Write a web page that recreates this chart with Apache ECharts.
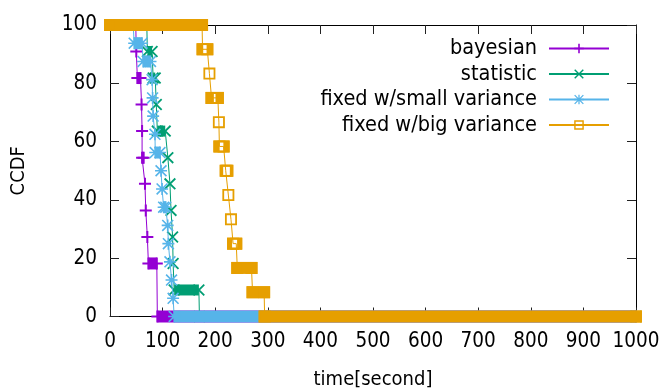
<!DOCTYPE html>
<html>
<head>
<meta charset="utf-8">
<script src="https://cdn.jsdelivr.net/npm/echarts@6/dist/echarts.min.js"></script>
<style>
  html, body { margin: 0; padding: 0; background: #fff; }
  #chart { width: 665px; height: 390px; }
</style>
</head>
<body>
<div id="chart"></div>
<script>
// CCDF of job completion time per method: x = time in seconds, y = CCDF in percent.
// Each array lists the step vertices; two consecutive vertices on the same level
// bound a stretch sampled so densely that its point markers merge into a band.
const bayesianX = [0, 49, 50, 52, 58, 60, 61, 61, 64, 66.5, 68, 71, 73, 89, 90, 1000];
const bayesianY = [100, 100, 90.9, 81.8, 81.8, 72.7, 63.6, 54.5, 54.5, 45.5, 36.4, 27.3, 18.2, 18.2, 0, 0];

const statisticX = [0, 70, 71, 80, 82, 86, 88, 90, 105, 110, 114, 116, 119, 120, 122, 169, 170, 1000];
const statisticY = [100, 100, 90.9, 90.9, 81.8, 81.8, 72.7, 63.6, 63.6, 54.5, 45.5, 36.4, 27.3, 18.2, 9.1, 9.1, 0, 0];

const smallVarX = [0, 44, 46, 61, 63, 77, 80, 81, 82, 85.5, 86, 95, 97, 99, 102, 106, 109.7, 111, 114, 117, 120, 122, 1000];
const smallVarY = [100, 100, 93.75, 93.75, 87.5, 87.5, 81.25, 75, 68.75, 62.5, 56.25, 56.25, 50, 43.75, 37.5, 37.5, 31.25, 25, 18.75, 12.5, 6.25, 0, 0];

const bigVarX = [0, 175, 176, 185, 189, 193, 205, 207, 208, 216, 220, 223, 225, 230, 234, 240, 242, 269, 271, 293, 294, 1000];
const bigVarY = [100, 100, 91.67, 91.67, 83.33, 75, 75, 66.67, 58.33, 58.33, 50, 50, 41.67, 33.33, 25, 25, 16.67, 16.67, 8.33, 8.33, 0, 0];

const seriesNames = ['bayesian', 'statistic', 'fixed w/small variance', 'fixed w/big variance'];
const xTicks = { min: 0, max: 1000, step: 100 };
const yTicks = { min: 0, max: 100, step: 20 };

// gnuplot-like point glyphs
const PLUS = 'path://M5,0H7V5H12V7H7V12H5V7H0V5H5Z';
const CROSS = 'path://M1.28,0L12,10.72L10.72,12L0,1.28Z M10.72,0L12,1.28L1.28,12L0,10.72Z';
const STAR = 'path://M0,5.2L12,5.2L12,6.8L0,6.8Z M5.2,0L6.8,0L6.8,12L5.2,12Z ' +
             'M1.13,0L12,10.87L10.87,12L0,1.13Z M10.87,0L12,1.13L1.13,12L0,10.87Z';
const OPEN_SQUARE = 'path://M0,0H12V12H0Z M1.8,1.8V10.2H10.2V1.8Z';

const FONT = "'DejaVu Sans Condensed', 'DejaVu Sans', sans-serif";

const methods = [
  { name: seriesNames[0], xs: bayesianX,  ys: bayesianY,  color: '#9400d3', symbol: PLUS,        band: 12, hollow: false },
  { name: seriesNames[1], xs: statisticX, ys: statisticY, color: '#009e73', symbol: CROSS,       band: 11, hollow: false },
  { name: seriesNames[2], xs: smallVarX,  ys: smallVarY,  color: '#56b4e9', symbol: STAR,        band: 12, hollow: false },
  { name: seriesNames[3], xs: bigVarX,    ys: bigVarY,    color: '#e69f00', symbol: OPEN_SQUARE, band: 12, hollow: true }
];
const SYMBOL_SIZE = 12;

function zipPoints(xs, ys) {
  return xs.map((x, i) => [x, ys[i]]);
}

// Stretches where consecutive vertices share a level -> solid marker bands.
function bandSpans(xs, ys) {
  const spans = [];
  for (let i = 1; i < xs.length; i++) {
    if (ys[i] === ys[i - 1] && xs[i] > xs[i - 1]) spans.push([xs[i - 1], xs[i], ys[i]]);
  }
  return spans;
}

function bandRenderer(m) {
  return (params, api) => {
    const a = api.coord([api.value(0), api.value(2)]);
    const b = api.coord([api.value(1), api.value(2)]);
    const h = m.band;
    if (!m.hollow) {
      return {
        type: 'rect',
        shape: { x: a[0], y: a[1] - h / 2, width: b[0] - a[0], height: h },
        style: { fill: m.color }
      };
    }
    // A run of open squares: the union of their outlines, with whatever
    // interior is left open when the run is shorter than one square.
    const half = SYMBOL_SIZE / 2, inner = half - 1.8;
    const children = [{
      type: 'rect',
      shape: { x: a[0] - half, y: a[1] - half, width: b[0] - a[0] + 2 * half, height: 2 * half },
      style: { fill: m.color }
    }];
    const holeL = b[0] - inner, holeR = a[0] + inner;
    if (holeR > holeL) {
      children.push({
        type: 'rect',
        shape: { x: holeL, y: a[1] - inner, width: holeR - holeL, height: 2 * inner },
        style: { fill: '#fff' }
      });
    }
    return { type: 'group', children: children };
  };
}

const series = [];
methods.forEach((m, k) => {
  const z = 10 + k;
  series.push({
    type: 'custom',
    name: m.name + ' band',
    z: z,
    clip: false,
    silent: true,
    data: bandSpans(m.xs, m.ys),
    encode: { x: [0, 1], y: 2 },
    renderItem: bandRenderer(m)
  });
  series.push({
    type: 'line',
    name: m.name,
    z: z,
    clip: false,
    silent: true,
    animation: false,
    data: zipPoints(m.xs, m.ys),
    symbol: m.symbol,
    symbolSize: SYMBOL_SIZE,
    showAllSymbol: true,
    lineStyle: { color: m.color, width: 1 },
    itemStyle: { color: m.color, borderWidth: 0 }
  });
});

const legendRows = [48.5, 74, 99.5, 125];
const legends = seriesNames.map((n, i) => ({
  data: [n],
  orient: 'horizontal',
  align: 'right',
  right: 55,
  top: legendRows[i] - 11,
  padding: 0,
  itemWidth: 60,
  itemHeight: 12,
  selectedMode: false,
  textStyle: { fontFamily: FONT, fontSize: 21.5, color: '#000', padding: [0, 7, 0, 0] }
}));

const tickStyle = { show: true, inside: true, length: 9, lineStyle: { color: '#222', width: 1 } };
const lineStyle = { show: true, onZero: false, lineStyle: { color: '#000', width: 1 } };
const plain = v => String(v);

const option = {
  animation: false,
  backgroundColor: '#fff',
  grid: { left: 110, right: 29, top: 25, bottom: 73.5, containLabel: false, outerBoundsMode: 'none' },
  legend: legends,
  xAxis: [
    {
      type: 'value', position: 'bottom',
      min: xTicks.min, max: xTicks.max, interval: xTicks.step,
      axisLine: lineStyle, axisTick: tickStyle, splitLine: { show: false },
      axisLabel: { fontFamily: FONT, fontSize: 20.5, color: '#000', margin: 15, formatter: plain },
      name: 'time[second]', nameLocation: 'middle', nameGap: 53,
      nameTextStyle: { fontFamily: FONT, fontSize: 20, color: '#000' }
    },
    {
      type: 'value', position: 'top',
      min: xTicks.min, max: xTicks.max, interval: xTicks.step,
      axisLine: lineStyle, axisTick: tickStyle, splitLine: { show: false },
      axisLabel: { show: false }
    }
  ],
  yAxis: [
    {
      type: 'value', position: 'left',
      min: yTicks.min, max: yTicks.max, interval: yTicks.step,
      axisLine: lineStyle, axisTick: tickStyle, splitLine: { show: false },
      axisLabel: { fontFamily: FONT, fontSize: 20.5, color: '#000', margin: 13, formatter: plain },
      name: 'CCDF', nameLocation: 'middle', nameGap: 81,
      nameTextStyle: { fontFamily: FONT, fontSize: 20, color: '#000' }
    },
    {
      type: 'value', position: 'right',
      min: yTicks.min, max: yTicks.max, interval: yTicks.step,
      axisLine: lineStyle, axisTick: tickStyle, splitLine: { show: false },
      axisLabel: { show: false }
    }
  ],
  series: series
};

const chart = echarts.init(document.getElementById('chart'), null, { renderer: 'canvas' });
chart.setOption(option);
</script>
</body>
</html>
